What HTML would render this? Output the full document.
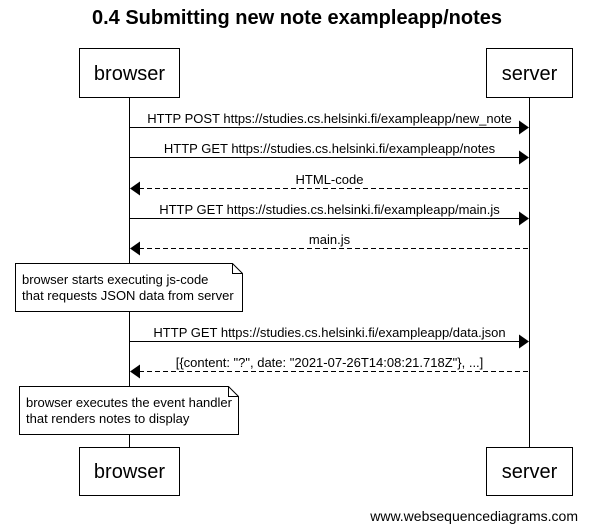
<!DOCTYPE html>
<html><head><meta charset="utf-8"><style>
html,body{margin:0;padding:0;background:#fff;}
svg{display:block;}
text{font-family:"Liberation Sans",Arial,sans-serif;fill:#000;}
</style></head><body>
<svg width="598" height="532" viewBox="0 0 598 532" xmlns="http://www.w3.org/2000/svg">
<text x="297" y="24" font-size="20" font-weight="bold" text-anchor="middle">0.4 Submitting new note exampleapp/notes</text>
<g stroke="#000" stroke-width="1" fill="#fff">
<line x1="129.5" y1="98" x2="129.5" y2="447"/>
<line x1="529.5" y1="98" x2="529.5" y2="447"/>
<rect x="79.5" y="48.5" width="100" height="49"/>
<rect x="486.5" y="48.5" width="86" height="49"/>
<rect x="79.5" y="447.5" width="100" height="48"/>
<rect x="486.5" y="447.5" width="86" height="48"/>
</g>
<g font-size="20" text-anchor="middle">
<text x="129.5" y="80">browser</text>
<text x="529.5" y="80">server</text>
<text x="129.5" y="478">browser</text>
<text x="529.5" y="478">server</text>
</g>
<g stroke="#000" stroke-width="1">
<line x1="130" y1="127.5" x2="520" y2="127.5"/>
<line x1="130" y1="157.5" x2="520" y2="157.5"/>
<line x1="139" y1="188.5" x2="529" y2="188.5" stroke-dasharray="5,3"/>
<line x1="130" y1="218.5" x2="520" y2="218.5"/>
<line x1="139" y1="248.5" x2="529" y2="248.5" stroke-dasharray="5,3"/>
<line x1="130" y1="341.5" x2="520" y2="341.5"/>
<line x1="139" y1="371.5" x2="529" y2="371.5" stroke-dasharray="5,3"/>
</g>
<g fill="#000">
<polygon points="519,120.5 529,127.5 519,134.5"/>
<polygon points="519,150.5 529,157.5 519,164.5"/>
<polygon points="140,181.5 130,188.5 140,195.5"/>
<polygon points="519,211.5 529,218.5 519,225.5"/>
<polygon points="140,241.5 130,248.5 140,255.5"/>
<polygon points="519,334.5 529,341.5 519,348.5"/>
<polygon points="140,364.5 130,371.5 140,378.5"/>
</g>
<g font-size="13" text-anchor="middle">
<text x="329.5" y="123">HTTP POST https://studies.cs.helsinki.fi/exampleapp/new_note</text>
<text x="329.5" y="153">HTTP GET https://studies.cs.helsinki.fi/exampleapp/notes</text>
<text x="329.5" y="184">HTML-code</text>
<text x="329.5" y="214">HTTP GET https://studies.cs.helsinki.fi/exampleapp/main.js</text>
<text x="329.5" y="244">main.js</text>
<text x="329.5" y="337">HTTP GET https://studies.cs.helsinki.fi/exampleapp/data.json</text>
<text x="329.5" y="367">[{content: "?", date: "2021-07-26T14:08:21.718Z"}, ...]</text>
</g>
<g stroke="#000" stroke-width="1" fill="#fff">
<path d="M15.5,263.5 H232.5 L242.5,273.5 V311.5 H15.5 Z"/>
<path d="M232.5,263.5 V273.5 H242.5" fill="none"/>
<path d="M19.5,386.5 H228.5 L238.5,396.5 V434.5 H19.5 Z"/>
<path d="M228.5,386.5 V396.5 H238.5" fill="none"/>
</g>
<g font-size="13">
<text x="22" y="284">browser starts executing js-code</text>
<text x="22" y="300">that requests JSON data from server</text>
<text x="26" y="407">browser executes the event handler</text>
<text x="26" y="423">that renders notes to display</text>
</g>
<text x="578" y="521" font-size="14" text-anchor="end">www.websequencediagrams.com</text>
</svg>
</body></html>
